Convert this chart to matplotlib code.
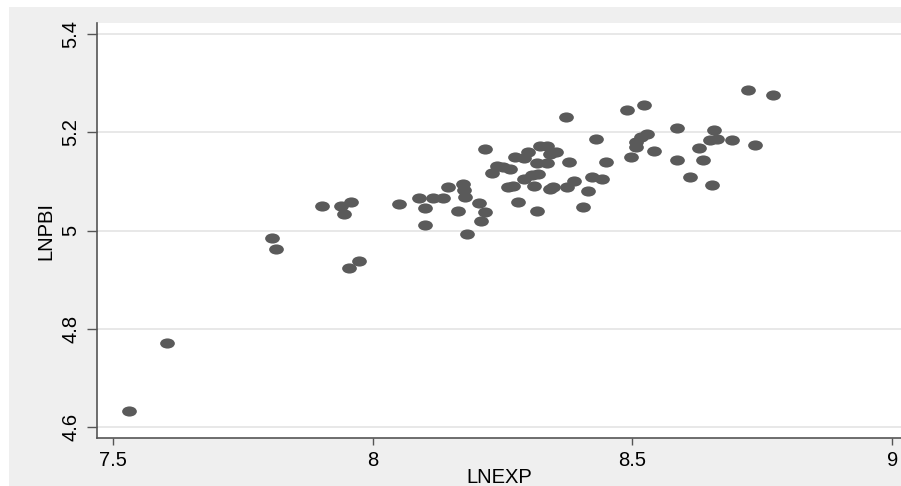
import matplotlib
matplotlib.use("Agg")
import matplotlib.pyplot as plt
from matplotlib.path import Path
from matplotlib.patches import Rectangle
import numpy as np

# LNEXP (x) and LNPBI (y)
lnexp = [7.531, 7.604, 7.806, 7.814, 7.902, 7.939, 7.958, 7.945, 7.954, 7.974,
         8.051, 8.089, 8.101, 8.101, 8.116, 8.135, 8.145, 8.164, 8.174, 8.176,
         8.178, 8.182, 8.205, 8.216, 8.209, 8.216, 8.230, 8.239, 8.251, 8.264,
         8.260, 8.270, 8.280, 8.274, 8.291, 8.299, 8.291, 8.307, 8.318, 8.311,
         8.316, 8.322, 8.336, 8.316, 8.336, 8.341, 8.353, 8.341, 8.347, 8.372,
         8.378, 8.374, 8.388, 8.405, 8.415, 8.422, 8.430, 8.441, 8.449, 8.490,
         8.522, 8.497, 8.507, 8.507, 8.517, 8.528, 8.542, 8.586, 8.586, 8.611,
         8.628, 8.636, 8.653, 8.657, 8.649, 8.663, 8.692, 8.736, 8.723, 8.771]
lnpbi = [4.633, 4.771, 4.985, 4.963, 5.050, 5.050, 5.058, 5.034, 4.924, 4.938,
         5.054, 5.066, 5.046, 5.011, 5.066, 5.066, 5.089, 5.040, 5.095, 5.083,
         5.068, 4.993, 5.056, 5.038, 5.020, 5.166, 5.117, 5.131, 5.129, 5.125,
         5.089, 5.091, 5.058, 5.150, 5.148, 5.160, 5.105, 5.113, 5.115, 5.091,
         5.040, 5.172, 5.172, 5.138, 5.138, 5.156, 5.160, 5.085, 5.089, 5.231,
         5.140, 5.089, 5.101, 5.048, 5.081, 5.109, 5.186, 5.105, 5.140, 5.245,
         5.256, 5.150, 5.170, 5.180, 5.190, 5.197, 5.162, 5.209, 5.144, 5.109,
         5.168, 5.144, 5.093, 5.205, 5.184, 5.186, 5.184, 5.174, 5.286, 5.276]

xticks = [7.5, 8, 8.5, 9]
xtick_labels = ["7.5", "8", "8.5", "9"]
yticks = [4.6, 4.8, 5.0, 5.2, 5.4]
ytick_labels = ["4.6", "4.8", "5", "5.2", "5.4"]

plt.rcParams["font.family"] = ["Liberation Sans", "DejaVu Sans"]

W, H = 901, 486
fig = plt.figure(figsize=(W / 100, H / 100), dpi=100, facecolor="white")
fig.patches.append(Rectangle((9 / W, 0), 1, 1 - 7 / H, transform=fig.transFigure,
                             facecolor="#efefef", edgecolor="none", zorder=-10))

ax = fig.add_axes([97 / W, 48 / H, (W - 97) / W, (438 - 23) / H])
ax.set_facecolor("white")

# wide ellipse marker
circ = Path.unit_circle()
ell = Path(circ.vertices * np.array([1.45, 1.0]), circ.codes)

ax.plot(lnexp, lnpbi, linestyle="none", marker=ell, markersize=10.6,
        color="#5a5a5a", markeredgewidth=0, zorder=3)

ax.set_xlim(7.469, 9.017)
ax.set_ylim(4.578, 5.422)

ax.set_xticks(xticks)
ax.set_xticklabels(xtick_labels)
ax.set_yticks(yticks)
ax.set_yticklabels(ytick_labels, rotation=90, va="center")

ax.grid(axis="y", color="#e6e6e6", linewidth=1.3, zorder=0)
ax.set_axisbelow(True)

for s in ["top", "right"]:
    ax.spines[s].set_visible(False)
for s in ["left", "bottom"]:
    ax.spines[s].set_color("#555555")
    ax.spines[s].set_linewidth(1.2)

ax.tick_params(axis="x", length=5, width=1, color="#555555", labelsize=14.5, pad=4)
ax.tick_params(axis="y", length=7, width=1, color="#555555", labelsize=14.5, pad=5)

ax.set_xlabel("LNEXP", fontsize=14.5, labelpad=-1)
ax.set_ylabel("LNPBI", fontsize=14.5, labelpad=4)

fig.savefig("out.png", dpi=100, facecolor="white")
